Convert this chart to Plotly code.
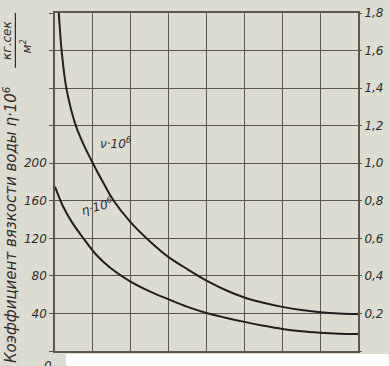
import plotly.graph_objects as go

# Temperature (deg C) positions
nu_T = [2, 3.5, 6, 11, 16, 20, 25, 31, 40, 50, 60, 70, 80, 90, 100, 110, 120, 130, 140, 150, 160]
nu_vals = [1.80, 1.60, 1.40, 1.20, 1.08, 1.00, 0.905, 0.80, 0.685, 0.585, 0.50, 0.435,
           0.375, 0.325, 0.285, 0.257, 0.235, 0.218, 0.207, 0.200, 0.197]

eta_T = [0, 4, 9, 15, 22, 29, 39, 50, 60, 70, 80, 90, 100, 110, 120, 130, 140, 150, 160]
eta_vals = [175, 155, 137, 120, 102, 89, 75, 63.5, 55, 47, 40.5, 35.5, 31, 27, 23.5, 21, 19.5, 18.5, 18]

left_ticks = [0, 40, 80, 120, 160, 200, 240, 280, 320, 360]
left_labels = ["", "40", "80", "120", "160", "200", "", "", "", ""]
right_ticks = [0, 0.2, 0.4, 0.6, 0.8, 1.0, 1.2, 1.4, 1.6, 1.8]
right_labels = ["", "0,2", "0,4", "0,6", "0,8", "1,0", "1,2", "1,4", "1,6", "1,8"]

paper = "#dddcd0"
grid = "rgb(95,86,82)"
ink = "rgb(36,30,30)"
txt = "rgb(48,43,43)"
FONT = "DejaVu Sans"

fig = go.Figure()
fig.add_trace(go.Scatter(x=eta_T, y=eta_vals, mode="lines", yaxis="y",
                         line=dict(color=ink, width=2, shape="spline", smoothing=1.0),
                         showlegend=False, hoverinfo="skip"))
fig.add_trace(go.Scatter(x=nu_T, y=nu_vals, mode="lines", yaxis="y2",
                         line=dict(color=ink, width=2, shape="spline", smoothing=1.0),
                         showlegend=False, hoverinfo="skip"))

fig.update_layout(
    width=390, height=366,
    margin=dict(l=55, r=29, t=6, b=15),
    paper_bgcolor=paper, plot_bgcolor=paper,
    xaxis=dict(range=[0, 160], dtick=20, tick0=0, showticklabels=False,
               showgrid=True, gridcolor=grid, gridwidth=1.3, zeroline=False,
               showline=True, linecolor=grid, linewidth=1.6, mirror=True, ticks=""),
    yaxis=dict(range=[0, 360], tickvals=left_ticks, ticktext=left_labels,
               showgrid=True, gridcolor=grid, gridwidth=1.3, zeroline=False,
               showline=True, linecolor=grid, linewidth=1.6, mirror=True,
               ticks="outside", ticklen=4, tickcolor=grid, tickwidth=1.3,
               tickfont=dict(family=FONT, size=12, color=txt, style="italic")),
    yaxis2=dict(range=[0, 1.8], tickvals=right_ticks, ticktext=right_labels,
                overlaying="y", side="right", showgrid=False, zeroline=False,
                ticks="outside", ticklen=3, tickcolor=grid, tickwidth=1.3,
                tickfont=dict(family=FONT, size=12, color=txt, style="italic")),
)

ann_font = dict(family=FONT, size=15, color=txt, style="italic")
fig.add_annotation(xref="paper", yref="paper", x=(9 - 55) / 306, y=(351 - 222) / 345,
                   text="Коэффициент вязкости воды η·10<sup>6</sup>", textangle=-90,
                   showarrow=False, font=ann_font, xanchor="center", yanchor="middle")
fig.add_annotation(xref="paper", yref="paper", x=(7 - 55) / 306, y=(351 - 34) / 345,
                   text="кг.сек", textangle=-90, showarrow=False,
                   font=dict(family=FONT, size=12, color=txt, style="italic"),
                   xanchor="center", yanchor="middle")
fig.add_annotation(xref="paper", yref="paper", x=(26 - 55) / 306, y=(351 - 40) / 345,
                   text="м<sup>2</sup>", textangle=-90, showarrow=False,
                   font=dict(family=FONT, size=12, color=txt, style="italic"),
                   xanchor="center", yanchor="middle")
fig.add_shape(type="line", xref="paper", yref="paper",
              x0=(15 - 55) / 306, x1=(15 - 55) / 306,
              y0=(351 - 6) / 345, y1=(351 - 62) / 345,
              line=dict(color=txt, width=1.2))
fig.add_annotation(xref="paper", yref="paper", x=(48 - 55) / 306, y=(351 - 357) / 345,
                   text="0", showarrow=False,
                   font=dict(family=FONT, size=12, color=txt, style="italic"),
                   xanchor="center", yanchor="top")

fig.add_annotation(xref="x", yref="y", x=32, y=222, text="ν·10<sup>6</sup>",
                   showarrow=False, font=dict(family=FONT, size=12, color=txt, style="italic"))
fig.add_annotation(xref="x", yref="y", x=22, y=154, text="η·10<sup>6</sup>", textangle=-15,
                   showarrow=False, font=dict(family=FONT, size=12, color=txt, style="italic"))

# white strip of the cropped scan below the chart
fig.add_shape(type="rect", xref="paper", yref="paper", layer="above",
              x0=(66 - 55) / 306, x1=(392 - 55) / 306,
              y0=(351 - 368) / 345, y1=(351 - 354) / 345,
              fillcolor="white", line=dict(width=0))

fig.write_html("out.html")
